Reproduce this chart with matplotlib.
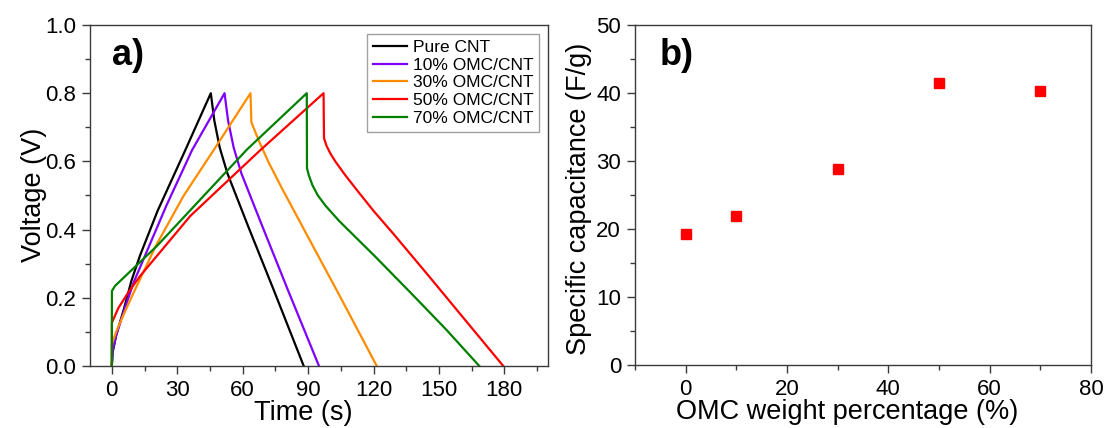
import numpy as np
import matplotlib.pyplot as plt
from matplotlib.ticker import MultipleLocator

plt.rcParams['font.family'] = ['Liberation Sans', 'DejaVu Sans']

# a) charge/discharge curves (time s, voltage V)
labels = ["Pure CNT", "10% OMC/CNT", "30% OMC/CNT", "50% OMC/CNT", "70% OMC/CNT"]
colors = ["black", "#7f00ff", "#ff8c00", "#ff0000", "#008000"]

t_pure = [0, 0.4, 2, 5.5, 9, 13, 21, 33.7, 45.4,
          47, 49.5, 53, 62.5, 74.3, 88]
v_pure = [0, 0.04, 0.09, 0.166, 0.25, 0.325, 0.455, 0.633, 0.80,
          0.72, 0.64, 0.565, 0.41, 0.222, 0]

t_10 = [0, 0.4, 2, 5.5, 10, 15, 25, 36.8, 51.7,
        53.3, 55.9, 59.4, 69, 80.8, 95]
v_10 = [0, 0.045, 0.09, 0.16, 0.245, 0.32, 0.47, 0.633, 0.80,
        0.72, 0.64, 0.565, 0.41, 0.222, 0]

t_30 = [0, 0.1, 2, 5, 10, 20, 33, 46.7, 63.6,
        64.0, 66, 68, 72, 78.1, 88, 104.3, 121.5]
v_30 = [0, 0.065, 0.10, 0.145, 0.215, 0.35, 0.50, 0.633, 0.80,
        0.715, 0.683, 0.652, 0.596, 0.52, 0.402, 0.208, 0]

t_50 = [0, 0.05, 3, 8, 13, 36, 68.1, 97.1,
        97.3, 98.5, 100.5, 102.7, 107, 112.5, 120, 128.8, 145.2, 161.5, 179.5]
v_50 = [0, 0.127, 0.17, 0.22, 0.264, 0.44, 0.633, 0.80,
        0.668, 0.645, 0.62, 0.598, 0.56, 0.515, 0.455, 0.39, 0.265, 0.139, 0]

t_70 = [0, 0.05, 1.5, 20.7, 62, 89.4,
        89.5, 90.3, 92, 94.5, 98, 104.3, 120.6, 137, 153.3, 168.5]
v_70 = [0, 0.22, 0.235, 0.352, 0.635, 0.80,
        0.58, 0.56, 0.53, 0.50, 0.47, 0.425, 0.322, 0.215, 0.107, 0]

times = [t_pure, t_10, t_30, t_50, t_70]
volts = [v_pure, v_10, v_30, v_50, v_70]

# b) specific capacitance vs OMC content
omc_pct = [0, 10, 30, 50, 70]
capacitance = [19.2, 21.9, 28.8, 41.5, 40.3]

fig = plt.figure(figsize=(11.07, 4.28), dpi=100)
ax1 = fig.add_axes([0.0813, 0.1449, 0.4137, 0.7967])
ax2 = fig.add_axes([0.5736, 0.1472, 0.4119, 0.7944])

spine_col = "#3a3a3a"
for ax in (ax1, ax2):
    for s in ax.spines.values():
        s.set_color(spine_col)
        s.set_linewidth(1.0)
    ax.tick_params(which='both', direction='out', top=False, right=False,
                   colors=spine_col, labelcolor='black', labelsize=16)
    ax.tick_params(which='major', length=6, width=1.0, pad=4)
    ax.tick_params(which='minor', length=3.5, width=1.0)

for t, v, c, lab in zip(times, volts, colors, labels):
    ax1.plot(t, v, color=c, lw=1.6, label=lab)

ax1.set_xlim(-10, 200)
ax1.set_ylim(0, 1.0)
ax1.set_xticks([0, 30, 60, 90, 120, 150, 180])
ax1.xaxis.set_minor_locator(MultipleLocator(15))
ax1.yaxis.set_major_locator(MultipleLocator(0.2))
ax1.yaxis.set_minor_locator(MultipleLocator(0.1))
ax1.yaxis.set_major_formatter(plt.FormatStrFormatter('%.1f'))
ax1.set_xlabel("Time (s)", fontsize=19.5)
ax1.set_ylabel("Voltage (V)", fontsize=19.5)
ax1.xaxis.set_label_coords(0.4666, -0.100)
ax1.yaxis.set_label_coords(-0.094, 0.503)
ax1.text(0.048, 0.883, "a)", transform=ax1.transAxes, fontsize=26,
         fontweight='bold', va='baseline')
leg = ax1.legend(loc='upper right', fontsize=12.5, frameon=True, fancybox=False,
                 labelspacing=0.15, handlelength=2.0, handletextpad=0.3,
                 borderpad=0.35, borderaxespad=0.5)
leg.get_frame().set_edgecolor("#888888")
leg.get_frame().set_linewidth(1.0)

ax2.plot(omc_pct, capacitance, 's', color='#ff0000', ms=7.5, mec='#ff0000')
ax2.set_xlim(-10, 80)
ax2.set_ylim(0, 50)
ax2.xaxis.set_major_locator(MultipleLocator(20))
ax2.xaxis.set_minor_locator(MultipleLocator(10))
ax2.yaxis.set_major_locator(MultipleLocator(10))
ax2.yaxis.set_minor_locator(MultipleLocator(5))
ax2.set_xlabel("OMC weight percentage (%)", fontsize=19.5)
ax2.set_ylabel("Specific capacitance (F/g)", fontsize=19.5)
ax2.xaxis.set_label_coords(0.465, -0.100)
ax2.yaxis.set_label_coords(-0.094, 0.49)
ax2.text(0.055, 0.882, "b)", transform=ax2.transAxes, fontsize=26,
         fontweight='bold', va='baseline')

fig.savefig("out.png", dpi=100)
